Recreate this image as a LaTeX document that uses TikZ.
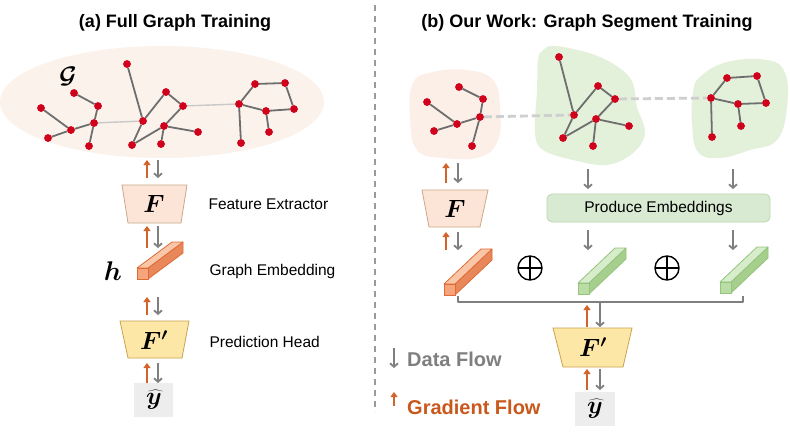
\RequirePackage{fix-cm}
\documentclass[tikz,border=0pt]{standalone}
\usepackage{fontspec}
\setmainfont{Liberation Sans}
\usepackage{bm}
\usetikzlibrary{arrows.meta,calc}
\definecolor{nodered}{HTML}{D0021B}
\definecolor{edgegray}{HTML}{6E6E6E}
\definecolor{lightedge}{HTML}{C8C8C8}
\definecolor{dashgray}{HTML}{CFCFCF}
\definecolor{ellfill}{HTML}{FBF2EC}
\definecolor{peachblob}{HTML}{FCEFE8}
\definecolor{greenblob}{HTML}{E3F0DA}
\definecolor{flowgray}{HTML}{7F7F7F}
\definecolor{flowor}{HTML}{D2632A}
\definecolor{gradtext}{HTML}{C8581C}
\definecolor{Ffill}{HTML}{FCE4D6}
\definecolor{Fedge}{HTML}{C9A98A}
\definecolor{Fpfill}{HTML}{FDE7A6}
\definecolor{Fpedge}{HTML}{C9A34E}
\definecolor{yfill}{HTML}{EDEDED}
\definecolor{prodfill}{HTML}{D9EAD3}
\definecolor{prodedge}{HTML}{B9D8AB}
\definecolor{divgray}{HTML}{9A9A9A}
\definecolor{ofront}{HTML}{F5A47C}
\definecolor{otop}{HTML}{F9C7A8}
\definecolor{oside}{HTML}{E8875A}
\definecolor{oedge}{HTML}{E06A35}
\definecolor{gfront}{HTML}{B9DDA5}
\definecolor{gtop}{HTML}{D6ECCA}
\definecolor{gside}{HTML}{A6CF8D}
\definecolor{gedge}{HTML}{94C47D}
\newcommand{\embbar}[5]{%
  \draw[fill=#5side, draw=#5edge, line width=0.8pt, line join=round]
    (#1+11,#2-11) -- (#1+11,#2) -- (#1+11+#3,#2-#4) -- (#1+11+#3,#2-11-#4) -- cycle;
  \draw[fill=#5top, draw=#5edge, line width=0.8pt, line join=round]
    (#1,#2-11) -- (#1+11,#2-11) -- (#1+11+#3,#2-11-#4) -- (#1+#3,#2-11-#4) -- cycle;
  \draw[fill=#5front, draw=#5edge, line width=0.8pt] (#1,#2-11) rectangle (#1+11,#2);
}
\newcommand{\oplussym}[2]{%
  \draw[line width=1.4pt] (#1,#2) circle (12);
  \draw[line width=1.4pt] (#1-12,#2) -- (#1+12,#2) (#1,#2-12) -- (#1,#2+12);
}
\begin{document}
\begin{tikzpicture}[x=1pt,y=-1pt,
  gn/.style={circle, fill=nodered, minimum size=7.5pt, inner sep=0pt},
  ge/.style={draw=edgegray, line width=1.8pt},
  le/.style={draw=lightedge, line width=1.4pt},
  seg/.style={draw=dashgray, line width=2.8pt, dash pattern=on 8pt off 4pt},
  garrow/.style={draw=flowgray, line width=1.8pt, -{Straight Barb[length=3.5pt,width=8pt]}},
  oarrow/.style={draw=flowor, line width=2pt, -{Triangle[length=5pt,width=7pt]}},
  title/.style={font=\bfseries\fontsize{18}{22}\selectfont},
  lbl/.style={font=\fontsize{15.5}{18}\selectfont, anchor=west},
  mth/.style={font=\fontsize{25}{28}\selectfont, inner sep=0pt},
]
\useasboundingbox (0,0) rectangle (790,434);
\fill[white] (0,0) rectangle (790,434);

% titles
\node[title] (ta) at (175,23) {(a) Full Graph Training};
\node[title] (tb) at (587,23) {(b) Our Work: Graph Segment Training};

% divider
\draw[draw=divgray, line width=1.4pt, dash pattern=on 6pt off 5pt] (375,5) -- (375,412);

% ---------------- left: full graph ----------------
\fill[ellfill] (162,102) ellipse (162 and 56);
\node[mth, font=\fontsize{24}{28}\selectfont] (G) at (68,76) {$\boldsymbol{\mathcal{G}}$};
\node[gn] (a1) at (127,64) {};
\node[gn] (a2) at (74,93) {};
\node[gn] (a3) at (98,106) {};
\node[gn] (a4) at (41,108) {};
\node[gn] (a5) at (94,123) {};
\node[gn] (a6) at (71,130) {};
\node[gn] (a7) at (48,138) {};
\node[gn] (a8) at (89,146) {};
\node[gn] (a9) at (143,121) {};
\node[gn] (a10) at (166,92) {};
\node[gn] (a11) at (183,106) {};
\node[gn] (a12) at (164,126) {};
\node[gn] (a13) at (198,132) {};
\node[gn] (a14) at (132,145) {};
\node[gn] (a15) at (161,144) {};
\node[gn] (a16) at (239,104) {};
\node[gn] (a17) at (255,84) {};
\node[gn] (a18) at (285,83) {};
\node[gn] (a19) at (294,109) {};
\node[gn] (a20) at (266,111) {};
\node[gn] (a21) at (269,132) {};
\node[gn] (a22) at (241,143) {};
\draw[le] (a5) -- (a9);
\draw[le] (a11) -- (a16);
\draw[ge] (a2)--(a3) (a3)--(a5) (a4)--(a6) (a6)--(a5) (a7)--(a6) (a5)--(a8)
  (a1)--(a9) (a9)--(a10) (a10)--(a11) (a11)--(a12) (a9)--(a14) (a14)--(a12)
  (a12)--(a13) (a12)--(a15)
  (a16)--(a17) (a17)--(a18) (a18)--(a19) (a19)--(a20) (a20)--(a16) (a20)--(a21) (a16)--(a22);
\foreach \p in {{127,64},{74,93},{98,106},{41,108},{94,123},{71,130},{48,138},{89,146},{143,121},{166,92},{183,106},{164,126},{198,132},{132,145},{161,144},{239,104},{255,84},{285,83},{294,109},{266,111},{269,132},{241,143}}
  \fill[nodered] (\p) circle (3.75);

% left column pipeline
\draw[oarrow] (147,178) -- (147,160);
\draw[garrow] (158,160) -- (158,178);
\draw[fill=Ffill, draw=Fedge, line width=0.8pt] (122,185) -- (187,185) -- (181,223) -- (128,223) -- cycle;
\node[mth] (F1) at (154,204) {$\bm{F}$};
\node[lbl] (fe) at (205,204) {Feature Extractor};
\draw[oarrow] (147,248) -- (147,226);
\draw[garrow] (158,226) -- (158,248);
\embbar{137}{279}{35}{26}{o}
\node[mth, font=\fontsize{27}{30}\selectfont] (h) at (113,271) {$\bm{h}$};
\node[lbl] (ge) at (206,271) {Graph Embedding};
\draw[oarrow] (147,315) -- (147,297);
\draw[garrow] (158,297) -- (158,315);
\draw[fill=Fpfill, draw=Fpedge, line width=0.8pt] (120,321) -- (189,321) -- (182,358) -- (128,358) -- cycle;
\node[mth] (Fp1) at (154,340) {$\bm{F'}$};
\node[lbl] (ph) at (206,342) {Prediction Head};
\draw[oarrow] (147,383) -- (147,363);
\draw[garrow] (158,363) -- (158,383);
\fill[yfill] (134,383) rectangle (173,417);
\node[mth] (y1) at (154,400) {$\widehat{\bm{y}}$};

% ---------------- right: segments ----------------
\fill[peachblob] plot[smooth cycle, tension=0.7] coordinates {(413,83) (433,72) (467,70) (493,80) (500,107) (498,140) (480,157) (443,158) (417,150) (410,117)};
\fill[greenblob] plot[smooth cycle, tension=0.6] coordinates {(543,50) (557,46) (600,57) (630,78) (637,107) (645,133) (633,153) (607,165) (573,160) (543,150) (535,133) (537,90) (538,60)};
\fill[greenblob] plot[smooth cycle, tension=0.7] coordinates {(700,77) (727,62) (767,60) (785,73) (787,107) (777,140) (750,150) (720,158) (698,152) (692,123) (693,93)};

\node[gn] (b1) at (459,87) {};
\node[gn] (b2) at (483,99) {};
\node[gn] (b3) at (427,102) {};
\node[gn] (b4) at (480,117) {};
\node[gn] (b5) at (457,124) {};
\node[gn] (b6) at (434,131) {};
\node[gn] (b7) at (472,146) {};
\node[gn] (c1) at (559,57) {};
\node[gn] (c2) at (574,115) {};
\node[gn] (c3) at (598,86) {};
\node[gn] (c4) at (615,99) {};
\node[gn] (c5) at (596,119) {};
\node[gn] (c6) at (629,126) {};
\node[gn] (c7) at (563,138) {};
\node[gn] (c8) at (593,146) {};
\node[gn] (d1) at (711,98) {};
\node[gn] (d2) at (727,78) {};
\node[gn] (d3) at (757,76) {};
\node[gn] (d4) at (766,103) {};
\node[gn] (d5) at (738,104) {};
\node[gn] (d6) at (741,126) {};
\node[gn] (d7) at (712,137) {};
\draw[seg] (b4) -- (c2);
\draw[seg] (c4) -- (d1);
\draw[ge] (b1)--(b2) (b2)--(b4) (b3)--(b5) (b5)--(b4) (b6)--(b5) (b4)--(b7)
  (c1)--(c2) (c2)--(c3) (c3)--(c4) (c4)--(c5) (c2)--(c7) (c7)--(c5) (c5)--(c6) (c5)--(c8)
  (d1)--(d2) (d2)--(d3) (d3)--(d4) (d4)--(d5) (d5)--(d1) (d5)--(d6) (d1)--(d7);
\foreach \p in {{459,87},{483,99},{427,102},{480,117},{457,124},{434,131},{472,146},{559,57},{574,115},{598,86},{615,99},{596,119},{629,126},{563,138},{593,146},{711,98},{727,78},{757,76},{766,103},{738,104},{741,126},{712,137}}
  \fill[nodered] (\p) circle (3.75);

% right pipeline
\draw[oarrow] (446,183) -- (446,163);
\draw[garrow] (458,163) -- (458,183);
\draw[fill=Ffill, draw=Fedge, line width=0.8pt] (422,190) -- (488,190) -- (480,227) -- (429,227) -- cycle;
\node[mth] (F2) at (455,209) {$\bm{F}$};
\draw[oarrow] (446,250) -- (446,232);
\draw[garrow] (458,232) -- (458,250);

\draw[garrow] (588,169) -- (588,189);
\draw[garrow] (733,169) -- (733,189);
\node[draw=prodedge, fill=prodfill, line width=0.8pt, rounded corners=5pt, minimum width=223pt, minimum height=28pt, inner sep=0pt, font=\fontsize{15.5}{18}\selectfont] (pe) at (658.5,208) {Produce Embeddings};
\draw[garrow] (588,230) -- (588,250);
\draw[garrow] (733,230) -- (733,250);

\embbar{444}{295}{37}{35}{o}
\oplussym{530}{268}
\embbar{578}{294}{37}{35}{g}
\oplussym{667}{268}
\embbar{720}{293}{37}{35}{g}

% bracket
\coordinate (brl) at (458,302);
\coordinate (brr) at (743,302);
\draw[draw=flowgray, line width=1.6pt, line join=round] (458,296) -- (brl) -- (brr) -- (743,296);
\draw[oarrow] (587,327) -- (587,305);
\draw[garrow] (600,302) -- (600,327);
\draw[fill=Fpfill, draw=Fpedge, line width=0.8pt] (553,328) -- (632,328) -- (623,367) -- (563,367) -- cycle;
\node[mth] (Fp2) at (593,347) {$\bm{F'}$};
\draw[oarrow] (587,390) -- (587,369);
\draw[garrow] (600,369) -- (600,390);
\fill[yfill] (575,392) rectangle (615,426);
\node[mth] (y2) at (595,409) {$\widehat{\bm{y}}$};

% legend
\draw[garrow] (394,348) -- (394,368);
\node[font=\bfseries\fontsize{20}{24}\selectfont, text=flowgray, anchor=west, inner sep=0pt] (df) at (407,359) {Data Flow};
\draw[oarrow] (394,406) -- (394,392);
\node[font=\bfseries\fontsize{20}{24}\selectfont, text=gradtext, anchor=west, inner sep=0pt] (gf) at (407,407) {Gradient Flow};
\end{tikzpicture}
\end{document}
